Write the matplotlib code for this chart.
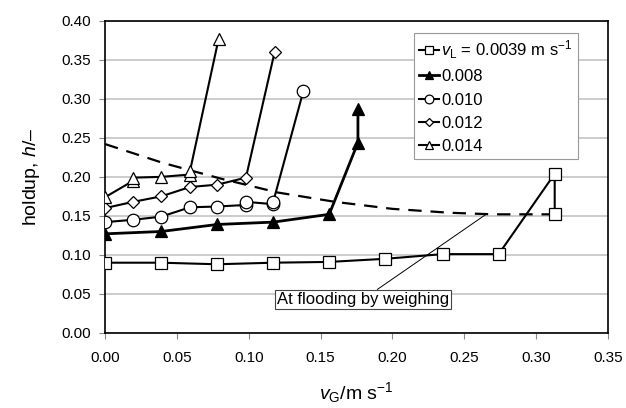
import matplotlib
matplotlib.use("Agg")
import matplotlib.pyplot as plt

plt.rcParams['font.family'] = ['Liberation Sans', 'DejaVu Sans']
plt.rcParams['mathtext.fontset'] = 'custom'
plt.rcParams['mathtext.rm'] = 'Liberation Sans'
plt.rcParams['mathtext.it'] = 'Liberation Sans:italic'

# holdup data
x_0039 = [0.0, 0.039, 0.078, 0.117, 0.156, 0.195, 0.235, 0.274, 0.313, 0.313]
h_0039 = [0.090, 0.090, 0.088, 0.090, 0.091, 0.095, 0.101, 0.101, 0.204, 0.152]

x_008 = [0.0, 0.039, 0.078, 0.117, 0.156, 0.176, 0.176]
h_008 = [0.127, 0.130, 0.139, 0.142, 0.152, 0.244, 0.287]

x_010 = [0.0, 0.0195, 0.039, 0.059, 0.078, 0.098, 0.098, 0.117, 0.117, 0.138]
h_010 = [0.142, 0.145, 0.149, 0.161, 0.162, 0.164, 0.168, 0.165, 0.168, 0.310]

x_012 = [0.0, 0.0195, 0.039, 0.059, 0.078, 0.098, 0.118]
h_012 = [0.160, 0.168, 0.175, 0.187, 0.190, 0.199, 0.360]

x_014 = [0.0, 0.0195, 0.0195, 0.039, 0.059, 0.059, 0.079]
h_014 = [0.174, 0.195, 0.199, 0.200, 0.203, 0.207, 0.377]

# flooding curve (by weighing)
x_flood = [0.0, 0.04, 0.08, 0.12, 0.16, 0.20, 0.24, 0.27, 0.31]
h_flood = [0.242, 0.218, 0.198, 0.180, 0.168, 0.159, 0.154, 0.152, 0.152]

fig = plt.figure(figsize=(6.26, 4.08), dpi=100)
ax = fig.add_axes([0.168, 0.184, 0.803, 0.765])

ax.grid(axis='y', color='#c8c8c8', linewidth=1.3)
ax.set_axisbelow(True)

ax.plot(x_flood, h_flood, color='black', linestyle=(0, (6, 4)), linewidth=1.6, zorder=2)

mk = dict(markeredgecolor='black', markeredgewidth=0.9, zorder=3)
ax.plot(x_0039, h_0039, '-s', color='black', lw=1.5, ms=8, markerfacecolor='white',
        label=r'$v_\mathrm{L}$ = 0.0039 m s$^{-1}$', **mk)
ax.plot(x_008, h_008, '-^', color='black', lw=2.0, ms=8, markerfacecolor='black',
        label='0.008', **mk)
ax.plot(x_010, h_010, '-o', color='black', lw=1.5, ms=9, markerfacecolor='white',
        label='0.010', **mk)
ax.plot(x_012, h_012, '-D', color='black', lw=1.5, ms=6.5, markerfacecolor='white',
        label='0.012', **mk)
ax.plot(x_014, h_014, '-^', color='black', lw=1.5, ms=9, markerfacecolor='white',
        label='0.014', **mk)

ax.annotate('At flooding by weighing', xy=(0.266, 0.153), xytext=(0.1795, 0.043),
            ha='center', va='center', fontsize=12,
            bbox=dict(boxstyle='square,pad=0.12', facecolor='white', edgecolor='#444444', linewidth=0.8),
            arrowprops=dict(arrowstyle='-', color='black', linewidth=0.7, shrinkA=0, shrinkB=0))

ax.set_xlim(0, 0.35)
ax.set_ylim(0, 0.40)
ax.set_xticks([0.0, 0.05, 0.10, 0.15, 0.20, 0.25, 0.30, 0.35])
ax.set_yticks([0.0, 0.05, 0.10, 0.15, 0.20, 0.25, 0.30, 0.35, 0.40])
ax.xaxis.set_major_formatter(matplotlib.ticker.FormatStrFormatter('%.2f'))
ax.yaxis.set_major_formatter(matplotlib.ticker.FormatStrFormatter('%.2f'))
ax.tick_params(labelsize=11, length=4, width=0.8, color='#888888', pad=6)
ax.tick_params(axis='x', pad=9)
for sp in ax.spines.values():
    sp.set_linewidth(1.2)

ax.set_xlabel(r'$v_\mathrm{G}$/m s$^{-1}$', fontsize=14, labelpad=11)
ax.set_ylabel(r'holdup, $h$/–', fontsize=14, labelpad=14)

leg = ax.legend(loc='upper left', bbox_to_anchor=(0.614, 0.96), fontsize=12,
                frameon=True, fancybox=False, edgecolor='#999999', framealpha=1,
                handlelength=1.2, handletextpad=0.15, labelspacing=0.5,
                borderpad=0.3, borderaxespad=0, markerscale=0.7)
leg.get_frame().set_linewidth(0.8)

fig.savefig('out.png', dpi=100)
